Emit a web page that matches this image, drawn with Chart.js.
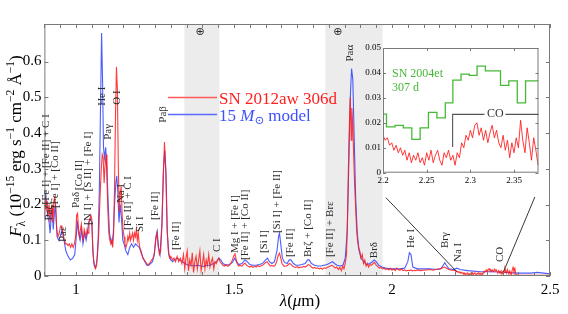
<!DOCTYPE html>
<html><head><meta charset="utf-8">
<script src="https://cdn.jsdelivr.net/npm/chart.js@4.4.1/dist/chart.umd.min.js"></script>
<style>body{margin:0;background:#fff}#wrap{position:relative;width:568px;height:314px}canvas{position:absolute}</style>
</head><body>
<div id="wrap">
<canvas id="main" width="568" height="314" style="left:0;top:0"></canvas>
<canvas id="inset" width="210" height="160" style="left:340px;top:38px"></canvas>
</div>
<script>
// ---------- DATA ----------
// 15 Msun model spectrum [wavelength (um), flux]
const modelPoints = [
[0.900,0.24],[0.905,0.22],[0.910,0.17],[0.915,0.15],[0.918,0.12],[0.922,0.17],[0.925,0.19],[0.928,0.13],[0.932,0.18],[0.935,0.20],
[0.940,0.11],[0.945,0.10],[0.950,0.11],[0.956,0.13],[0.962,0.10],[0.968,0.07],[0.975,0.055],[0.982,0.045],[0.990,0.05],[0.996,0.06],
[1.000,0.10],[1.004,0.155],[1.008,0.12],[1.013,0.10],[1.018,0.13],[1.022,0.09],[1.027,0.12],[1.032,0.10],[1.036,0.12],[1.040,0.15],
[1.045,0.16],[1.050,0.15],[1.054,0.06],[1.058,0.03],[1.062,0.025],[1.066,0.04],[1.070,0.10],[1.074,0.25],[1.078,0.50],[1.081,0.68],
[1.084,0.55],[1.087,0.36],[1.090,0.33],[1.094,0.36],[1.098,0.30],[1.102,0.20],[1.106,0.12],[1.110,0.10],[1.114,0.09],[1.118,0.12],
[1.122,0.20],[1.126,0.26],[1.129,0.28],[1.132,0.24],[1.136,0.15],[1.140,0.20],[1.144,0.16],[1.148,0.10],[1.152,0.09],[1.158,0.07],
[1.164,0.06],[1.170,0.08],[1.176,0.09],[1.182,0.08],[1.188,0.09],[1.194,0.085],[1.200,0.08],[1.206,0.07],[1.212,0.05],[1.218,0.04],
[1.224,0.03],[1.230,0.03],[1.236,0.035],[1.242,0.04],[1.248,0.06],[1.253,0.11],[1.257,0.125],[1.261,0.08],[1.266,0.06],[1.272,0.15],
[1.277,0.30],[1.281,0.35],[1.285,0.28],[1.289,0.12],[1.294,0.06],[1.300,0.045],[1.306,0.04],[1.312,0.045],[1.320,0.05],[1.328,0.045],
[1.336,0.04],[1.345,0.035],[1.355,0.03],[1.365,0.03],[1.375,0.028],[1.385,0.03],[1.395,0.028],[1.405,0.027],[1.415,0.03],[1.425,0.03],
[1.435,0.035],[1.445,0.04],[1.452,0.05],[1.458,0.045],[1.465,0.035],[1.475,0.03],[1.485,0.032],[1.495,0.038],[1.502,0.05],[1.508,0.04],
[1.515,0.032],[1.525,0.035],[1.535,0.045],[1.542,0.04],[1.550,0.032],[1.560,0.03],[1.570,0.03],[1.580,0.032],[1.590,0.035],[1.600,0.045],
[1.606,0.05],[1.612,0.04],[1.620,0.035],[1.628,0.04],[1.636,0.07],[1.641,0.11],[1.644,0.12],[1.648,0.09],[1.653,0.05],[1.660,0.038],
[1.668,0.035],[1.675,0.045],[1.680,0.045],[1.688,0.035],[1.696,0.03],[1.705,0.03],[1.715,0.032],[1.725,0.035],[1.733,0.045],[1.738,0.045],
[1.745,0.035],[1.755,0.03],[1.765,0.028],[1.775,0.028],[1.785,0.03],[1.795,0.032],[1.805,0.037],[1.812,0.04],[1.818,0.035],[1.826,0.03],
[1.836,0.028],[1.845,0.03],[1.852,0.05],[1.858,0.12],[1.863,0.30],[1.868,0.50],[1.872,0.58],[1.876,0.55],[1.880,0.40],[1.885,0.22],
[1.890,0.12],[1.896,0.07],[1.902,0.05],[1.910,0.04],[1.920,0.032],[1.930,0.035],[1.938,0.04],[1.944,0.045],[1.950,0.04],[1.958,0.03],
[1.968,0.025],[1.980,0.022],[1.995,0.02],[2.010,0.02],[2.025,0.02],[2.040,0.022],[2.050,0.04],[2.055,0.065],[2.060,0.06],[2.066,0.025],
[2.080,0.02],[2.100,0.02],[2.120,0.02],[2.140,0.018],[2.155,0.02],[2.162,0.03],[2.167,0.037],[2.172,0.03],[2.180,0.02],[2.195,0.018],
[2.205,0.022],[2.215,0.018],[2.240,0.015],[2.280,0.012],[2.320,0.012],[2.360,0.01],[2.400,0.008],[2.440,0.008],[2.460,0.01],[2.500,0.006]
];
// SN 2012aw 306d observed spectrum, 0.9 - 2.2 um
const obsPoints = [
[0.900,0.16],[0.903,0.22],[0.906,0.19],[0.909,0.21],[0.912,0.17],[0.915,0.20],[0.918,0.15],[0.921,0.19],[0.924,0.20],[0.927,0.15],
[0.930,0.21],[0.933,0.22],[0.936,0.19],[0.939,0.13],[0.943,0.11],[0.947,0.12],[0.951,0.14],[0.955,0.14],[0.959,0.12],[0.963,0.10],
[0.967,0.09],[0.971,0.09],[0.975,0.085],[0.979,0.09],[0.983,0.08],[0.987,0.09],[0.991,0.08],[0.995,0.09],[0.999,0.11],[1.002,0.17],
[1.005,0.175],[1.008,0.13],[1.011,0.11],[1.014,0.13],[1.017,0.145],[1.020,0.11],[1.023,0.10],[1.026,0.13],[1.029,0.12],[1.032,0.11],
[1.035,0.13],[1.038,0.12],[1.041,0.15],[1.044,0.16],[1.047,0.17],[1.050,0.16],[1.053,0.08],[1.056,0.04],[1.059,0.025],[1.062,0.02],
[1.065,0.03],[1.068,0.06],[1.072,0.12],[1.076,0.22],[1.080,0.30],[1.083,0.34],[1.086,0.33],[1.089,0.26],[1.092,0.31],[1.095,0.34],
[1.098,0.27],[1.101,0.18],[1.104,0.12],[1.107,0.10],[1.110,0.09],[1.113,0.10],[1.116,0.08],[1.119,0.12],[1.122,0.25],[1.125,0.45],
[1.128,0.585],[1.131,0.52],[1.134,0.30],[1.137,0.18],[1.140,0.23],[1.143,0.25],[1.146,0.17],[1.149,0.13],[1.152,0.11],[1.155,0.09],
[1.158,0.08],[1.161,0.09],[1.164,0.11],[1.167,0.10],[1.170,0.12],[1.173,0.10],[1.176,0.11],[1.179,0.12],[1.182,0.10],[1.185,0.12],
[1.188,0.11],[1.191,0.13],[1.194,0.10],[1.197,0.12],[1.200,0.09],[1.204,0.07],[1.208,0.06],[1.212,0.05],[1.216,0.045],[1.220,0.04],
[1.224,0.035],[1.228,0.03],[1.232,0.035],[1.236,0.04],[1.240,0.045],[1.244,0.05],[1.248,0.065],[1.252,0.10],[1.256,0.12],[1.260,0.085],
[1.264,0.06],[1.268,0.07],[1.272,0.14],[1.276,0.28],[1.280,0.375],[1.284,0.30],[1.288,0.14],[1.292,0.07],[1.296,0.05],[1.300,0.055],
[1.305,0.045],[1.310,0.05],[1.315,0.04],[1.320,0.055],[1.325,0.04],[1.330,0.05],[1.335,0.035],[1.340,0.06],[1.344,0.02],[1.348,0.05],
[1.352,0.07],[1.356,0.015],[1.360,0.045],[1.364,0.03],[1.368,0.065],[1.372,0.01],[1.376,0.04],[1.380,0.055],[1.384,0.02],[1.388,0.045],
[1.392,0.07],[1.396,0.015],[1.400,0.035],[1.404,0.06],[1.408,0.02],[1.412,0.045],[1.416,0.03],[1.420,0.06],[1.424,0.025],[1.428,0.04],
[1.432,0.05],[1.436,0.02],[1.440,0.04],[1.444,0.035],[1.448,0.045],[1.452,0.05],[1.456,0.04],[1.460,0.035],[1.465,0.03],[1.470,0.028],
[1.475,0.032],[1.480,0.027],[1.485,0.03],[1.490,0.035],[1.495,0.045],[1.500,0.058],[1.503,0.064],[1.506,0.05],[1.510,0.035],[1.515,0.028],
[1.520,0.03],[1.525,0.027],[1.530,0.033],[1.535,0.036],[1.540,0.03],[1.545,0.027],[1.550,0.025],[1.555,0.028],[1.560,0.024],[1.565,0.027],
[1.570,0.025],[1.575,0.03],[1.580,0.026],[1.585,0.028],[1.590,0.03],[1.595,0.033],[1.600,0.038],[1.605,0.04],[1.610,0.033],[1.615,0.028],
[1.620,0.03],[1.625,0.027],[1.630,0.03],[1.635,0.04],[1.640,0.058],[1.644,0.064],[1.648,0.05],[1.652,0.035],[1.656,0.03],[1.660,0.027],
[1.665,0.028],[1.670,0.03],[1.675,0.035],[1.680,0.033],[1.685,0.028],[1.690,0.025],[1.695,0.024],[1.700,0.026],[1.705,0.023],[1.710,0.025],
[1.715,0.024],[1.720,0.027],[1.725,0.025],[1.730,0.028],[1.735,0.032],[1.740,0.03],[1.745,0.025],[1.750,0.022],[1.755,0.024],[1.760,0.021],
[1.765,0.023],[1.770,0.02],[1.775,0.022],[1.780,0.019],[1.785,0.023],[1.790,0.021],[1.795,0.024],[1.800,0.026],[1.805,0.028],[1.810,0.03],
[1.815,0.027],[1.820,0.022],[1.825,0.025],[1.830,0.018],[1.835,0.024],[1.840,0.015],[1.844,0.028],[1.848,0.02],[1.852,0.035],[1.856,0.06],
[1.859,0.15],[1.862,0.30],[1.865,0.42],[1.868,0.50],[1.871,0.38],[1.873,0.47],[1.876,0.42],[1.879,0.33],[1.882,0.25],[1.885,0.19],
[1.888,0.13],[1.891,0.10],[1.894,0.08],[1.898,0.07],[1.902,0.05],[1.906,0.06],[1.910,0.035],[1.914,0.045],[1.918,0.028],[1.922,0.035],
[1.926,0.025],[1.930,0.032],[1.935,0.03],[1.940,0.035],[1.945,0.038],[1.950,0.03],[1.955,0.026],[1.960,0.022],[1.965,0.024],[1.970,0.02],
[1.975,0.022],[1.980,0.018],[1.985,0.02],[1.990,0.017],[1.995,0.022],[2.000,0.016],[2.005,0.02],[2.010,0.015],[2.015,0.022],[2.020,0.018],
[2.025,0.016],[2.030,0.02],[2.035,0.015],[2.040,0.017],[2.045,0.014],[2.050,0.016],[2.055,0.015],[2.060,0.017],[2.065,0.014],[2.070,0.016],
[2.075,0.015],[2.080,0.017],[2.090,0.015],[2.100,0.016],[2.110,0.017],[2.120,0.018],[2.130,0.016],[2.140,0.019],[2.150,0.02],[2.158,0.022],
[2.165,0.025],[2.170,0.023],[2.178,0.019],[2.185,0.017],[2.190,0.016],[2.195,0.016]
];
// SN 2012aw 306d, CO region (shown in main plot and in inset)
const coPoints = [
[2.2000,0.015],[2.2025,0.013],[2.2050,0.014],[2.2075,0.011],[2.2100,0.012],[2.2125,0.009],[2.2150,0.011],[2.2175,0.008],[2.2200,0.010],[2.2225,0.007],
[2.2250,0.009],[2.2275,0.005],[2.2300,0.008],[2.2325,0.004],[2.2350,0.007],[2.2375,0.005],[2.2400,0.008],[2.2425,0.004],[2.2450,0.006],[2.2475,0.003],
[2.2500,0.008],[2.2525,0.005],[2.2550,0.009],[2.2575,0.004],[2.2600,0.007],[2.2625,0.009],[2.2650,0.005],[2.2675,0.003],[2.2700,0.008],[2.2725,0.006],
[2.2750,0.009],[2.2775,0.005],[2.2800,0.007],[2.2825,0.003],[2.2850,0.008],[2.2875,0.006],[2.2900,0.012],[2.2925,0.010],[2.2950,0.015],[2.2975,0.013],
[2.3000,0.017],[2.3025,0.014],[2.3050,0.019],[2.3075,0.020],[2.3100,0.015],[2.3125,0.018],[2.3150,0.013],[2.3175,0.017],[2.3200,0.012],[2.3225,0.016],
[2.3250,0.019],[2.3275,0.014],[2.3300,0.017],[2.3325,0.012],[2.3350,0.010],[2.3375,0.015],[2.3400,0.009],[2.3425,0.013],[2.3450,0.006],[2.3475,0.012],
[2.3500,0.008],[2.3525,0.014],[2.3550,0.010],[2.3575,0.021],[2.3600,0.013],[2.3625,0.008],[2.3650,0.018],[2.3675,0.012],[2.3700,0.005],[2.3725,0.014],
[2.3750,0.009],[2.3775,0.003]
];
const tailPoints = [[2.380,0.015],[2.383,0.024],[2.386,0.012],[2.389,0.02],[2.392,0.004],[2.400,0.002],[2.450,0.002],[2.500,0.002]];
// SN 2004et 307 d (binned, inset)
const sn2004etSteps = [
[2.2000,0.020],[2.2040,0.0235],[2.2138,0.0184],[2.2233,0.019],[2.2330,0.018],[2.2425,0.0134],[2.2520,0.018],[2.2617,0.0242],[2.2713,0.022],
[2.2800,0.028],[2.2893,0.0371],[2.2988,0.0395],[2.3077,0.039],[2.3172,0.0427],[2.3345,0.0408],[2.3440,0.035],[2.3537,0.0368],[2.3632,0.028],
[2.3720,0.0368],[2.3780,0.0368]
];
const xTickValues = [1, 1.5, 2, 2.5];
const yTickValues = [0, 0.1, 0.2, 0.3, 0.4, 0.5, 0.6];
const insetXTicks = [2.2, 2.25, 2.3, 2.35];
const insetYTicks = [0, 0.01, 0.02, 0.03, 0.04, 0.05];
const telluricBands = [[1.343, 1.454], [1.789, 1.970]];
const seriesNames = ['SN 2012aw 306d', '15 M⊙ model', 'SN 2004et', '307 d'];
// line identifications: [text, wavelength, flux at label start]
const lineLabels = [
['[Fe I] + [Fe II] + C I',0.905,0.200],['Paζ',0.916,0.155],['[Fe I] + [Co II]',0.934,0.190],['Paε',0.959,0.095],
['Paδ',1.000,0.190],['[Co II]',1.010,0.240],['[N I] + [S II] + [Fe I]',1.038,0.143],['He I',1.084,0.476],
['Paγ',1.101,0.381],['O I',1.131,0.479],['Na I',1.143,0.204],['[Fe II] + C I',1.165,0.129],['Si I',1.203,0.123],
['[Fe II]',1.250,0.157],['Paβ',1.275,0.429],['[Fe II]',1.318,0.073],['C I',1.446,0.067],['Mg I + [Fe I]',1.502,0.064],
['[Fe II] + [Co II]',1.535,0.045],['[Si I]',1.595,0.064],['[Si I] + [Fe II]',1.636,0.120],['[Fe II]',1.677,0.053],
['Brζ + [Co II]',1.734,0.053],['[Fe II] + Brε',1.804,0.053],['Paα',1.867,0.600],['Brδ',1.943,0.050],
['He I',2.060,0.078],['Brγ',2.168,0.078],['Na I',2.209,0.039],['CO',2.342,0.039]
];
const telluricMarks = [[1.393,0.683],[1.829,0.683]];
// zoom connectors (main data coords)
const connectors = [[[1.981,0.219],[2.205,0.012]],[[2.452,0.221],[2.353,0.012]]];
// CO band marker in inset
const coMarker = {start:2.2797, end:2.378, level:0.0234, foot:0.0103, textAt:2.3287};

// ---------- DRAWING ----------
const SERIF = '"Liberation Serif","DejaVu Serif",serif';
const RED = 'rgba(255,25,25,0.85)', BLUE = 'rgba(45,65,255,0.85)', GREEN = 'rgb(70,185,55)';
const toXY = a => a.map(p => ({x:p[0], y:p[1]}));

function rich(ctx, parts, x, y, size, align){
  const ps = parts.map(([t, st]) => {
    const small = st==='sup'||st==='sub'||st==='isub';
    const fs = small ? size*0.68 : size;
    const font = ((st==='i'||st==='isub')?'italic ':'') + fs + 'px ' + SERIF;
    ctx.font = font;
    return {t, font, w: ctx.measureText(t).width, dy: st==='sup' ? -size*0.4 : (small ? size*0.22 : 0)};
  });
  const total = ps.reduce((a,p)=>a+p.w,0);
  let cx = align==='center' ? x - total/2 : x;
  ctx.textBaseline = 'alphabetic';
  for (const p of ps){ ctx.font = p.font; ctx.fillText(p.t, cx, y + p.dy); cx += p.w; }
}

const mainDecor = {
  id:'mainDecor',
  beforeDatasetsDraw(chart){
    const {ctx, chartArea:a, scales:{x}} = chart;
    ctx.save();
    ctx.fillStyle = '#ececec';
    for (const [l,r] of telluricBands){
      const xl = x.getPixelForValue(l), xr = x.getPixelForValue(r);
      ctx.fillRect(xl, a.top, xr-xl, a.bottom-a.top);
    }
    ctx.restore();
  },
  afterDatasetsDraw(chart){
    const {ctx, chartArea:a, scales:{x,y}} = chart;
    ctx.save();
    // frame
    ctx.strokeStyle = '#7a7a7a'; ctx.lineWidth = 1;
    ctx.strokeRect(a.left+0.5, a.top+0.5, a.right-a.left-1, a.bottom-a.top-1);
    ctx.beginPath();
    for (let i=0;i<=32;i++){
      const v = 0.9 + i*0.05, px = Math.round(x.getPixelForValue(v))+0.5;
      ctx.moveTo(px, a.bottom); ctx.lineTo(px, a.bottom-4);
      ctx.moveTo(px, a.top); ctx.lineTo(px, a.top+4);
    }
    for (const v of yTickValues){
      const py = Math.round(y.getPixelForValue(v))+0.5;
      ctx.moveTo(a.left, py); ctx.lineTo(a.left+4, py);
      ctx.moveTo(a.right, py); ctx.lineTo(a.right-4, py);
    }
    ctx.stroke();
    // connectors
    ctx.strokeStyle = '#222'; ctx.lineWidth = 0.9;
    ctx.beginPath();
    for (const [p,q] of connectors){
      ctx.moveTo(x.getPixelForValue(p[0]), y.getPixelForValue(p[1]));
      ctx.lineTo(x.getPixelForValue(q[0]), y.getPixelForValue(q[1]));
    }
    ctx.stroke();
    // line labels
    ctx.fillStyle = '#2a2a2a';
    ctx.font = '11px ' + SERIF;
    ctx.textAlign = 'left'; ctx.textBaseline = 'middle';
    for (const [t,l,v] of lineLabels){
      ctx.save();
      ctx.translate(x.getPixelForValue(l), y.getPixelForValue(v));
      ctx.rotate(-Math.PI/2);
      ctx.fillText(t, 0, 0);
      ctx.restore();
    }
    ctx.font = '11px "DejaVu Sans",' + SERIF;
    ctx.textAlign = 'center';
    for (const [l,v] of telluricMarks) ctx.fillText('⊕', x.getPixelForValue(l), y.getPixelForValue(v));
    // legend
    ctx.textAlign = 'left';
    ctx.lineWidth = 1.3;
    ctx.strokeStyle = 'rgb(255,90,90)'; ctx.beginPath(); ctx.moveTo(168,97.5); ctx.lineTo(217,97.5); ctx.stroke();
    ctx.strokeStyle = 'rgb(90,105,255)'; ctx.beginPath(); ctx.moveTo(168,114.5); ctx.lineTo(217,114.5); ctx.stroke();
    ctx.fillStyle = 'rgb(255,30,30)';
    rich(ctx, [[seriesNames[0],'']], 219, 103.5, 17, 'left');
    ctx.fillStyle = 'rgb(60,80,255)';
    rich(ctx, [['15 ',''],['M','i'],['⊙','sub'],[' model','']], 219, 120.5, 17, 'left');
    // axis titles
    ctx.fillStyle = '#000';
    rich(ctx, [['λ','i'],['(',''],['μ','i'],['m)','']], 300, 306, 17, 'center');
    ctx.save();
    ctx.translate(21, 146); ctx.rotate(-Math.PI/2);
    rich(ctx, [['F','i'],['λ','sub'],[' (10',''],['−15','sup'],[' erg s',''],['−1','sup'],[' cm',''],['−2','sup'],[' Å',''],['−1','sup'],[')','']], 0, 0, 17, 'center');
    ctx.restore();
    ctx.restore();
  }
};

new Chart(document.getElementById('main'), {
  type:'line',
  data:{datasets:[
    {label:seriesNames[0], data:toXY(obsPoints.concat(coPoints, tailPoints)), borderColor:RED, borderWidth:1.1, pointRadius:0, order:0},
    {label:seriesNames[1], data:toXY(modelPoints), borderColor:BLUE, borderWidth:1.1, pointRadius:0, order:1}
  ]},
  options:{
    responsive:false, animation:false, devicePixelRatio:1,
    layout:{padding:{left:0,right:18,top:24,bottom:0}},
    plugins:{legend:{display:false}, tooltip:{enabled:false}},
    scales:{
      x:{type:'linear', min:0.9, max:2.5,
        afterBuildTicks:s=>{s.ticks = xTickValues.map(v=>({value:v}));},
        afterFit:s=>{s.height = 38;},
        grid:{display:false, drawTicks:false}, border:{display:false},
        ticks:{color:'#000', padding:5, font:{family:SERIF, size:15}, callback:v=>String(v)}},
      y:{type:'linear', min:0, max:0.705,
        afterBuildTicks:s=>{s.ticks = yTickValues.map(v=>({value:v}));},
        afterFit:s=>{s.width = 44.4;},
        grid:{display:false, drawTicks:false}, border:{display:false},
        ticks:{color:'#000', padding:3, font:{family:SERIF, size:15}, callback:v=>v===0?'0':v.toFixed(1)}}
    }
  },
  plugins:[mainDecor]
});

const insetDecor = {
  id:'insetDecor',
  beforeDatasetsDraw(chart){
    const {ctx, chartArea:a} = chart;
    ctx.save(); ctx.fillStyle = '#fff';
    ctx.fillRect(a.left, a.top, a.right-a.left, a.bottom-a.top);
    ctx.restore();
  },
  afterDatasetsDraw(chart){
    const {ctx, chartArea:a, scales:{x,y}} = chart;
    ctx.save();
    ctx.strokeStyle = '#7a7a7a'; ctx.lineWidth = 1;
    ctx.strokeRect(a.left+0.5, a.top+0.5, a.right-a.left-1, a.bottom-a.top-1);
    ctx.beginPath();
    for (const v of insetXTicks){
      const px = Math.round(x.getPixelForValue(v))+0.5;
      ctx.moveTo(px,a.bottom); ctx.lineTo(px,a.bottom-3);
      ctx.moveTo(px,a.top); ctx.lineTo(px,a.top+3);
    }
    for (const v of insetYTicks){
      const py = Math.round(y.getPixelForValue(v))+0.5;
      ctx.moveTo(a.left,py); ctx.lineTo(a.left+3,py);
      ctx.moveTo(a.right,py); ctx.lineTo(a.right-3,py);
    }
    ctx.stroke();
    // CO marker
    ctx.strokeStyle = '#555'; ctx.lineWidth = 1.1;
    const x0 = x.getPixelForValue(coMarker.start), x1 = x.getPixelForValue(coMarker.end);
    const yl = y.getPixelForValue(coMarker.level), yf = y.getPixelForValue(coMarker.foot);
    const xt = x.getPixelForValue(coMarker.textAt);
    ctx.beginPath();
    ctx.moveTo(x0, yf); ctx.lineTo(x0, yl); ctx.lineTo(xt-11, yl);
    ctx.moveTo(xt+10, yl); ctx.lineTo(x1, yl);
    ctx.stroke();
    ctx.fillStyle = '#333'; ctx.font = '12px ' + SERIF;
    ctx.textAlign = 'center'; ctx.textBaseline = 'middle';
    ctx.fillText('CO', xt, yl);
    // SN 2004et label
    ctx.fillStyle = GREEN; ctx.textAlign = 'left'; ctx.textBaseline = 'alphabetic';
    ctx.font = '12px ' + SERIF;
    ctx.fillText(seriesNames[2], 52, 39);
    ctx.fillText(seriesNames[3], 52, 53);
    ctx.restore();
  }
};

new Chart(document.getElementById('inset'), {
  type:'line',
  data:{datasets:[
    {label:seriesNames[2], data:toXY(sn2004etSteps), stepped:'after', borderColor:GREEN, borderWidth:1.3, pointRadius:0, order:0},
    {label:seriesNames[0], data:toXY(coPoints), borderColor:RED, borderWidth:1, pointRadius:0, order:1}
  ]},
  options:{
    responsive:false, animation:false, devicePixelRatio:1,
    layout:{padding:{left:0,right:11.5,top:10,bottom:0}},
    plugins:{legend:{display:false}, tooltip:{enabled:false}},
    scales:{
      x:{type:'linear', min:2.2, max:2.378,
        afterBuildTicks:s=>{s.ticks = insetXTicks.map(v=>({value:v}));},
        afterFit:s=>{s.height = 25.3;},
        grid:{display:false, drawTicks:false}, border:{display:false},
        ticks:{color:'#000', padding:3, font:{family:SERIF, size:9}, callback:v=>String(v)}},
      y:{type:'linear', min:0, max:0.05,
        afterBuildTicks:s=>{s.ticks = insetYTicks.map(v=>({value:v}));},
        afterFit:s=>{s.width = 43;},
        grid:{display:false, drawTicks:false}, border:{display:false},
        ticks:{color:'#000', padding:2, font:{family:SERIF, size:9}, callback:v=>v===0?'0':v.toFixed(2)}}
    }
  },
  plugins:[insetDecor]
});
</script>
</body></html>
